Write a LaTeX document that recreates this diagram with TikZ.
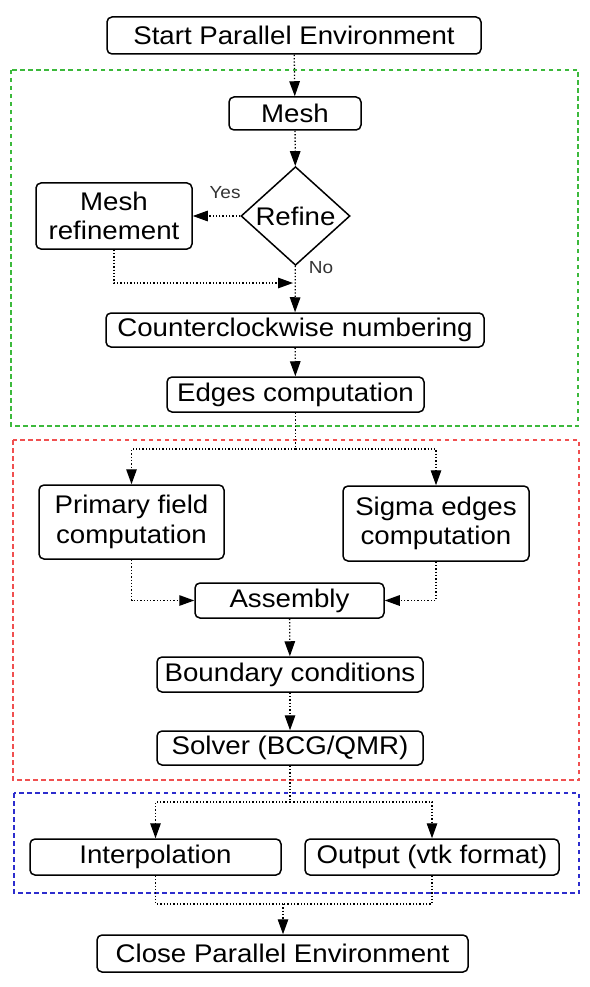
\documentclass[tikz,border=0pt]{standalone}
\usepackage{fontspec}
\setmainfont[FakeStretch=1.085]{Liberation Sans}
\usetikzlibrary{shapes.geometric,arrows.meta}
\definecolor{grpgreen}{RGB}{60,185,60}
\definecolor{grpred}{RGB}{240,80,80}
\definecolor{grpblue}{RGB}{45,45,205}
\begin{document}
\begin{tikzpicture}[x=1pt,y=-1pt,
  box/.style={draw, fill=white, rounded corners=5pt, line width=1.5pt, inner sep=0pt,
    font=\fontsize{25.5}{29.5}\selectfont, align=center},
  conn/.style={dotted, line width=1.3pt, -{Triangle[length=15pt,width=10.5pt]}},
  plain/.style={dotted, line width=1.3pt},
  group/.style={dash pattern=on 4.5pt off 3.5pt, line width=1.4pt},
  lbl/.style={font=\fontsize{17.5}{20}\selectfont, text=black!80}]
\useasboundingbox (0,0) rectangle (589,987);
% groups
\draw[group, grpgreen] (11,70) rectangle (578,426);
\draw[group, grpred] (13,440) rectangle (579,780);
\draw[group, grpblue] (14,793) rectangle (579,893);
% nodes
\node[box, minimum width=374, minimum height=37] (start) at (294,35.5) {Start Parallel Environment};
\node[box, minimum width=132, minimum height=33] (mesh) at (295,113.5) {Mesh};
\node[draw, fill=white, diamond, line width=1.5pt, minimum width=109, minimum height=92, inner sep=0pt,
  font=\fontsize{25.5}{29.5}\selectfont] (refine) at (295.5,216) {Refine};
\node[box, minimum width=156, minimum height=66] (meshref) at (114,216) {Mesh\\refinement};
\node[box, minimum width=378, minimum height=34] (ccw) at (295,330) {Counterclockwise numbering};
\node[box, minimum width=257, minimum height=35] (edges) at (295.5,394.5) {Edges computation};
\node[box, minimum width=185, minimum height=74] (primary) at (131.5,522) {Primary field\\computation};
\node[box, minimum width=186, minimum height=75] (sigma) at (436,523.5) {Sigma edges\\computation};
\node[box, minimum width=189, minimum height=35] (assembly) at (289.5,600.5) {Assembly};
\node[box, minimum width=266, minimum height=35] (boundary) at (290,674.5) {Boundary conditions};
\node[box, minimum width=266, minimum height=34] (solver) at (290,748) {Solver (BCG/QMR)};
\node[box, minimum width=251, minimum height=36] (interp) at (155.5,857) {Interpolation};
\node[box, minimum width=254, minimum height=36] (output) at (432,857) {Output (vtk format)};
\node[box, minimum width=371, minimum height=37] (close) at (282.5,953.5) {Close Parallel Environment};
\node[lbl] (yes) at (225,193) {Yes};
\node[lbl] (no) at (321,268) {No};
% junction coordinates
\coordinate (m1) at (295,283);
\coordinate (s1) at (295.5,449);
\coordinate (s2) at (290,802);
\coordinate (s3) at (283,904);
% connectors
\draw[conn] (start) -- (mesh);
\draw[conn] (mesh) -- (refine);
\draw[conn] (refine) -- (meshref);
\draw[conn] (refine) -- (ccw);
\draw[conn, shorten >=2pt] (meshref.south) |- (m1);
\draw[conn] (ccw) -- (edges);
\draw[plain] (edges.south) -- (s1);
\draw[conn] (s1) -| (primary.north);
\draw[conn] (s1) -| (sigma.north);
\draw[conn] (primary.south) |- (assembly.west);
\draw[conn] (sigma.south) |- (assembly.east);
\draw[conn] (assembly) -- (boundary);
\draw[conn] (boundary) -- (solver);
\draw[plain] (solver.south) -- (s2);
\draw[conn] (s2) -| (interp.north);
\draw[conn] (s2) -| (output.north);
\draw[plain] (interp.south) |- (s3);
\draw[plain] (output.south) |- (s3);
\draw[conn] (s3) -- (s3 |- close.north);
\end{tikzpicture}
\end{document}
